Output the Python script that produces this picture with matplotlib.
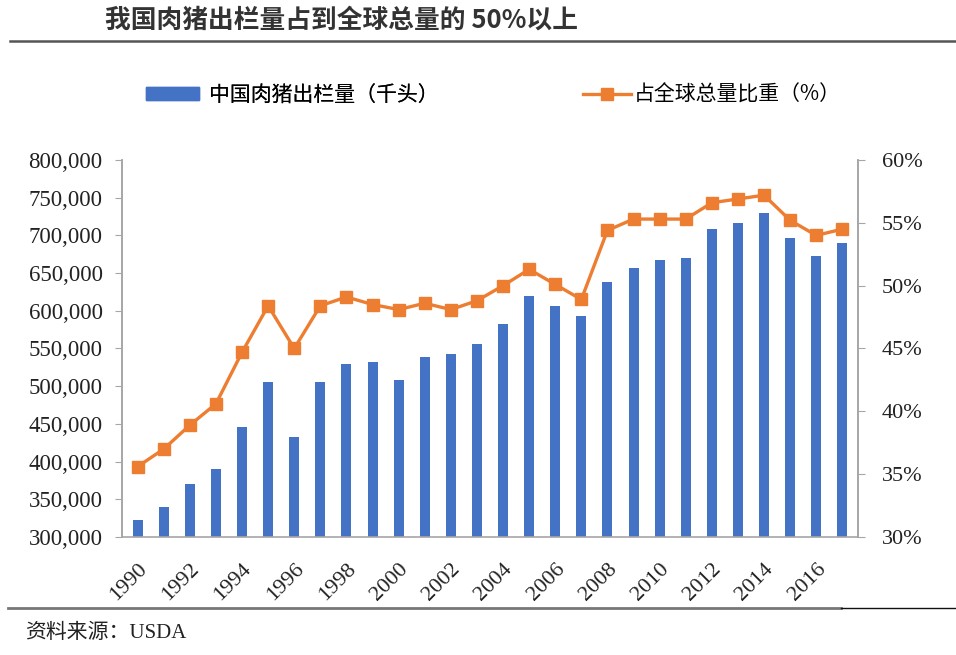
import numpy as np
import matplotlib.pyplot as plt
from matplotlib.lines import Line2D
from matplotlib.patches import Patch
from matplotlib.ticker import FuncFormatter

plt.rcParams['font.family'] = ['Noto Sans CJK SC', 'DejaVu Sans']

# 数据
years = list(range(1990, 2018))
hogs = [323000, 340000, 370000, 390000, 445500, 506000, 432000, 506000, 529000, 532500,
        508000, 539000, 542500, 556000, 583000, 620000, 606000, 593000, 638000, 657000,
        667000, 670000, 708500, 717000, 730000, 697000, 673000, 690000]
share = [35.6, 37.0, 38.9, 40.6, 44.7, 48.4, 45.0, 48.4, 49.1, 48.5,
         48.1, 48.6, 48.1, 48.8, 50.0, 51.3, 50.1, 48.9, 54.4, 55.3,
         55.3, 55.3, 56.6, 56.9, 57.2, 55.2, 54.0, 54.5]
tick_years = list(range(1990, 2017, 2))

title = '我国肉猪出栏量占到全球总量的 50%以上'
bar_label = '中国肉猪出栏量（千头）'
line_label = '占全球总量比重（%）'
source = '资料来源：USDA'

blue = '#4472C4'
orange = '#ED7D31'
gray = '#A6A6A6'
serif = ['Liberation Serif', 'Noto Sans CJK SC']

fig = plt.figure(figsize=(9.56, 6.55), dpi=100)
ax = fig.add_axes([0.1276, 0.1802, 0.7699, 0.5755])
ax2 = ax.twinx()

ax.bar(years, hogs, width=0.38, color=blue, zorder=2)
ax2.plot(years, share, color=orange, lw=2.4, marker='s', ms=9, zorder=3)

ax.set_ylim(300000, 800000)
ax.set_yticks(np.arange(300000, 800001, 50000))
ax.yaxis.set_major_formatter(FuncFormatter(lambda v, p: f'{int(v):,}'))
ax2.set_ylim(30, 60)
ax2.set_yticks(np.arange(30, 61, 5))
ax2.yaxis.set_major_formatter(FuncFormatter(lambda v, p: f'{int(v)}%'))
ax.set_xlim(1989.4, 2017.6)
ax.set_xticks(tick_years)
ax.set_xticklabels([str(y) for y in tick_years], rotation=45, ha='right',
                   rotation_mode='anchor', family=serif, fontsize=16, color='#222222')

for a in (ax, ax2):
    for s in a.spines.values():
        s.set_color(gray)
        s.set_linewidth(1.2)
    a.spines['top'].set_visible(False)
ax2.spines['bottom'].set_visible(False)

ax.tick_params(axis='y', direction='out', length=5, color=gray, pad=9)
ax2.tick_params(axis='y', direction='out', length=5, color=gray, pad=12)
ax.tick_params(axis='x', length=0, pad=16)
for lab in ax.get_yticklabels():
    lab.set_family(serif)
    lab.set_fontsize(16.5)
    lab.set_color('#222222')
for lab in ax2.get_yticklabels():
    lab.set_family(serif)
    lab.set_fontsize(16)
    lab.set_color('#222222')

# 图例（两个分开放）
leg1 = fig.legend([Patch(color=blue)], [bar_label], loc='center left',
                  bbox_to_anchor=(0.1326, 0.855), frameon=False, fontsize=15,
                  handlelength=2.55, handleheight=0.6, handletextpad=0.5)
fig.add_artist(leg1)
fig.legend([Line2D([], [], color=orange, lw=2.4, marker='s', ms=8)], [line_label],
           loc='center left', bbox_to_anchor=(0.590, 0.855), frameon=False, fontsize=15,
           handlelength=2.3, handletextpad=0.15)

# 标题和线条
fig.text(0.11, 0.969, title, fontsize=18.5, fontweight='bold', color='#333333', va='center')
fig.add_artist(Line2D([0.01, 1.0], [0.938, 0.938], color='#555555', lw=1.8))
fig.add_artist(Line2D([0.008, 0.88], [0.072, 0.072], color='#777777', lw=2))
fig.add_artist(Line2D([0.88, 1.0], [0.072, 0.072], color='#111111', lw=1))
fig.text(0.026, 0.033, source, fontsize=15, color='#222222', va='center', family=serif)

fig.savefig('out.png', dpi=100)
